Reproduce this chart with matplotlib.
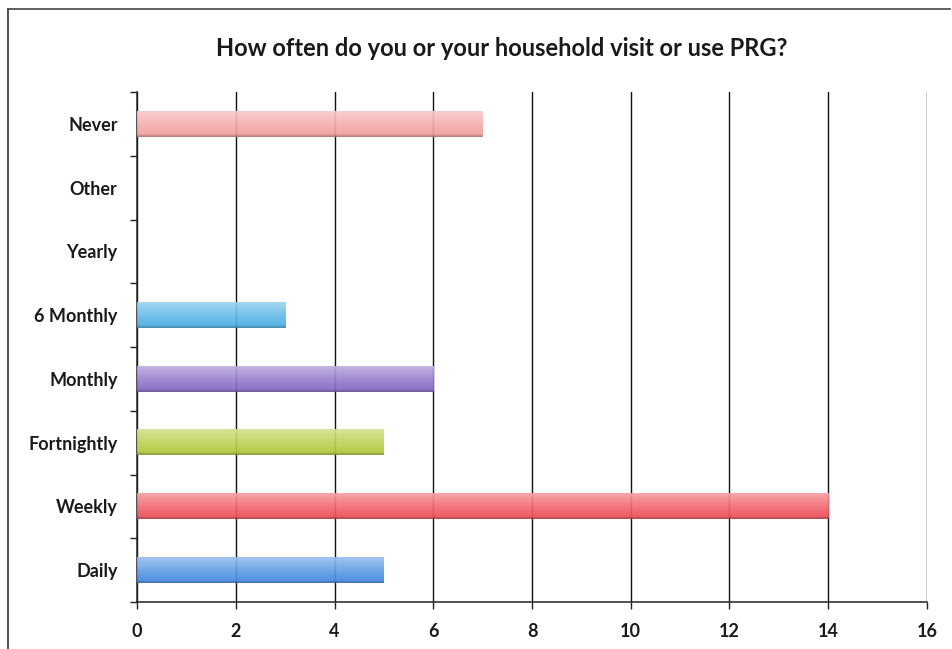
import numpy as np
import matplotlib
matplotlib.use("Agg")
import matplotlib.pyplot as plt
from matplotlib.colors import to_rgb
from matplotlib.lines import Line2D

# Survey responses: how often households visit or use PRG
categories = ["Daily", "Weekly", "Fortnightly", "Monthly", "6 Monthly", "Yearly", "Other", "Never"]
counts = [5, 14, 5, 6, 3, 0, 0, 7]
bar_colors = ["#4a8ee0", "#f0525c", "#b3cb3c", "#8b6bc6", "#4fb0e6", "#cccccc", "#cccccc", "#f4a0a0"]
x_ticks = [0, 2, 4, 6, 8, 10, 12, 14, 16]
title = "How often do you or your household visit or use PRG?"

plt.rcParams["font.family"] = ["Lato", "DejaVu Sans"]

W, H = 953, 649
fig = plt.figure(figsize=(W / 100, H / 100), dpi=100)
fig.patch.set_facecolor("white")

# outer chart frame: left and top edges
fig.add_artist(Line2D([8 / W, 8 / W], [0, 1 - 9 / H], transform=fig.transFigure,
                      color="#333333", linewidth=1.2))
fig.add_artist(Line2D([8 / W, 950 / W], [1 - 9 / H, 1 - 9 / H], transform=fig.transFigure,
                      color="#444444", linewidth=1.2))

ax = fig.add_axes([137 / W, 1 - 602 / H, (927 - 137) / W, (602 - 92) / H])

bar_h = 0.40
for i, (v, c) in enumerate(zip(counts, bar_colors)):
    if v <= 0:
        continue
    base = np.array(to_rgb(c))
    # vertical shading: pale top fading into full colour, darker bottom edge
    t = np.linspace(0, 1, 64)[:, None]          # 0 = bottom, 1 = top
    light = 0.45 * np.clip((t - 0.15) / 0.85, 0, 1) ** 1.2
    dark = 0.30 * np.clip((0.12 - t) / 0.12, 0, 1)
    img = base[None, None, :] + (1 - base[None, None, :]) * light[..., None]
    img = img * (1 - dark[..., None])
    img = np.clip(img, 0, 1)
    ax.imshow(img, extent=[0, v, i - bar_h / 2, i + bar_h / 2], aspect="auto",
              origin="lower", zorder=3, interpolation="bilinear", alpha=0.92)

ax.set_xlim(0, 16)
ax.set_ylim(-0.5, len(categories) - 0.5)

# vertical gridlines
ax.set_xticks(x_ticks)
ax.xaxis.grid(True, color="#111111", linewidth=1.0, zorder=1)
ax.set_axisbelow(True)

ax.set_yticks(range(len(categories)))
ax.set_yticklabels(categories)
ax.set_yticks(np.arange(-0.5, len(categories), 1.0), minor=True)
ax.tick_params(axis="y", which="major", length=0, pad=14, labelsize=13, labelcolor="#1a1a1a")
ax.tick_params(axis="y", which="minor", length=5, width=1.0, color="#222222")
ax.tick_params(axis="x", which="major", length=5, width=1.0, color="#222222", pad=10,
               labelsize=13, labelcolor="#1a1a1a")
for lab in ax.get_yticklabels() + ax.get_xticklabels():
    lab.set_fontweight("bold")

for side in ["top", "right"]:
    ax.spines[side].set_visible(False)
ax.spines["left"].set_color("#222222")
ax.spines["bottom"].set_color("#222222")
ax.spines["left"].set_linewidth(1.1)
ax.spines["bottom"].set_linewidth(1.1)

fig.text(502 / W, 1 - 48 / H, title, ha="center", va="center", fontsize=17,
         fontweight="bold", color="#1a1a1a")

fig.savefig("out.png", dpi=100, facecolor="white")
